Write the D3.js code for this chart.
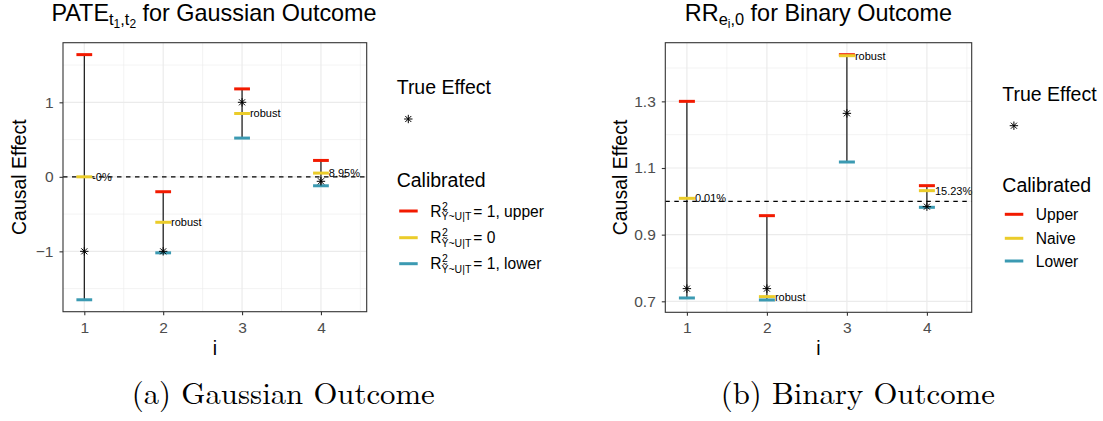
<!DOCTYPE html>
<html>
<head>
<meta charset="utf-8">
<script src="https://cdn.jsdelivr.net/npm/d3@7"></script>
<style>
  body { margin: 0; background: #fff; }
  svg { font-family: 'Liberation Sans', Arial, Helvetica, sans-serif; }
</style>
</head>
<body>
<svg width="1103" height="421"></svg>
<script>
//## DATA ##
const cases = [1, 2, 3, 4]
// -- (a) Gaussian outcome, PATE --
const gaussUpper = [1.64, -0.20, 1.18, 0.22]
const gaussNaive = [0, -0.61, 0.85, 0.05]
const gaussLower = [-1.65, -1.02, 0.52, -0.12]
const gaussTrue = [-1, -1, 1, -0.06]
const gaussLabels = ['-0%', 'robust', 'robust', '8.95%']
const gaussYTicks = [-1, 0, 1]
const gaussYMinor = [-1.5, -0.5, 0.5, 1.5]
// -- (b) Binary outcome, RR --
const binUpper = [1.30, 0.957, 1.44, 1.047]
const binNaive = [1.009, 0.714, 1.437, 1.032]
const binLower = [0.71, 0.704, 1.118, 0.982]
const binTrue = [0.738, 0.738, 1.264, 0.984]
const binLabels = ['0.01%', 'robust', 'robust', '15.23%']
const binYTicks = [0.7, 0.9, 1.1, 1.3]
const binYMinor = [0.8, 1.0, 1.2, 1.4]
const xMinor = [1.5, 2.5, 3.5, 4.5]

const colors = { upper: '#F21A00', naive: '#EBCC2A', lower: '#3B9AB2' }
const gridColor = '#EBEBEB'
const textGrey = '#4D4D4D'

const svg = d3.select('svg')

// asterisk like R's pch 8
const asterisk = function(g, cx, cy, r) {
  const d = r * 0.72
  const path = `M${cx - r},${cy}H${cx + r}M${cx},${cy - r}V${cy + r}` +
    `M${cx - d},${cy - d}L${cx + d},${cy + d}M${cx - d},${cy + d}L${cx + d},${cy - d}`
  g.append('path').attr('d', path).attr('stroke', '#000').attr('stroke-width', 1).attr('fill', 'none')
}

// title with nested subscripts: parts = [[text, level], ...]
const drawTitle = function(cx, baseline, parts) {
  const sizes = [23.4, 16.4, 12]
  const shift = [0, 4.6, 7.6]
  const t = svg.append('text')
    .attr('x', cx).attr('y', baseline)
    .attr('text-anchor', 'middle')
    .attr('fill', '#000')
  let prev = 0
  parts.forEach(([txt, lvl]) => {
    t.append('tspan')
      .attr('dy', shift[lvl] - prev)
      .style('font-size', sizes[lvl] + 'px')
      .text(txt)
    prev = shift[lvl]
  })
}

const drawPanel = function(cfg) {
  const box = cfg.box
  const x = d3.scaleLinear().domain(cfg.xDomain).range([box.left, box.right])
  const y = d3.scaleLinear().domain(cfg.yDomain).range([box.bottom, box.top])
  const g = svg.append('g')

  g.append('rect')
    .attr('x', box.left).attr('y', box.top)
    .attr('width', box.right - box.left).attr('height', box.bottom - box.top)
    .attr('fill', '#fff')

  // grid
  g.selectAll('.minorX').data(xMinor.filter(v => v > cfg.xDomain[0] && v < cfg.xDomain[1]))
    .enter().append('line')
    .attr('x1', d => x(d)).attr('x2', d => x(d))
    .attr('y1', box.top).attr('y2', box.bottom)
    .attr('stroke', gridColor).attr('stroke-width', 0.6)
  g.selectAll('.minorY').data(cfg.yMinor)
    .enter().append('line')
    .attr('x1', box.left).attr('x2', box.right)
    .attr('y1', d => y(d)).attr('y2', d => y(d))
    .attr('stroke', gridColor).attr('stroke-width', 0.6)
  g.selectAll('.majorX').data(cases)
    .enter().append('line')
    .attr('x1', d => x(d)).attr('x2', d => x(d))
    .attr('y1', box.top).attr('y2', box.bottom)
    .attr('stroke', gridColor).attr('stroke-width', 1.2)
  g.selectAll('.majorY').data(cfg.yTicks)
    .enter().append('line')
    .attr('x1', box.left).attr('x2', box.right)
    .attr('y1', d => y(d)).attr('y2', d => y(d))
    .attr('stroke', gridColor).attr('stroke-width', 1.2)

  // reference line
  g.append('line')
    .attr('x1', box.left).attr('x2', box.right)
    .attr('y1', y(cfg.ref)).attr('y2', y(cfg.ref))
    .attr('stroke', '#000').attr('stroke-width', 1.1)
    .attr('stroke-dasharray', '4.5,4.5')

  // intervals
  g.selectAll('.range').data(cases)
    .enter().append('line')
    .attr('x1', d => x(d)).attr('x2', d => x(d))
    .attr('y1', (d, i) => y(cfg.lower[i])).attr('y2', (d, i) => y(cfg.upper[i]))
    .attr('stroke', '#000').attr('stroke-width', 1.1)

  const caps = [['upper', cfg.upper], ['naive', cfg.naive], ['lower', cfg.lower]]
  caps.forEach(([key, vals]) => {
    g.selectAll('.cap-' + key).data(cases)
      .enter().append('line')
      .attr('x1', d => x(d - 0.1)).attr('x2', d => x(d + 0.1))
      .attr('y1', (d, i) => y(vals[i])).attr('y2', (d, i) => y(vals[i]))
      .attr('stroke', colors[key]).attr('stroke-width', 3)
  })

  cases.forEach((c, i) => asterisk(g, x(c), y(cfg.truth[i]), 4.2))

  g.selectAll('.lbl').data(cases)
    .enter().append('text')
    .attr('x', d => x(d + 0.1))
    .attr('y', (d, i) => y(cfg.naive[i]))
    .attr('dominant-baseline', 'central')
    .style('font-size', '11px')
    .attr('fill', '#000')
    .text((d, i) => cfg.labels[i])

  // border
  g.append('rect')
    .attr('x', box.left).attr('y', box.top)
    .attr('width', box.right - box.left).attr('height', box.bottom - box.top)
    .attr('fill', 'none').attr('stroke', '#333').attr('stroke-width', 1.1)

  // axes
  const xAxisGroup = g.append('g')
    .attr('transform', 'translate(0,' + box.bottom + ')')
    .call(d3.axisBottom(x).tickValues(cases).tickSize(3.5).tickPadding(6.5).tickFormat(d3.format('d')))
  const yAxisGroup = g.append('g')
    .attr('transform', 'translate(' + box.left + ',0)')
    .call(d3.axisLeft(y).tickValues(cfg.yTicks).tickSize(3.5).tickPadding(6).tickFormat(cfg.yFormat))
  ;[xAxisGroup, yAxisGroup].forEach(ax => {
    ax.select('.domain').remove()
    ax.attr('font-family', null).attr('font-size', null)
    ax.selectAll('.tick line').attr('stroke', '#333').attr('stroke-width', 1.1)
    ax.selectAll('.tick text').attr('fill', textGrey).style('font-size', '15.5px')
  })

  svg.append('text')
    .attr('x', (box.left + box.right) / 2).attr('y', 355)
    .attr('text-anchor', 'middle')
    .style('font-size', '19.5px')
    .text('i')

  svg.append('text')
    .attr('transform', 'translate(' + cfg.yTitleX + ',' + (box.top + box.bottom) / 2 + ') rotate(-90)')
    .attr('text-anchor', 'middle')
    .style('font-size', '19.5px')
    .text('Causal Effect')
}

// legend label with R^2 over subscript (plotmath style)
const drawMathLabel = function(x0, cy, tail) {
  const base = svg.append('text').attr('x', x0).attr('y', cy + 5.5).style('font-size', '15.6px').text('R')
  const w = base.node().getComputedTextLength()
  svg.append('text').attr('x', x0 + w + 0.5).attr('y', cy - 1.5).style('font-size', '10.5px').text('2')
  const sub = svg.append('text').attr('x', x0 + w).attr('y', cy + 9).style('font-size', '10.5px').text('\u1EF8~U|T')
  const sw = sub.node().getComputedTextLength()
  svg.append('text').attr('x', x0 + w + sw + 2).attr('y', cy + 5.5).style('font-size', '15.6px').text(tail)
}

const drawLegend = function(cfg) {
  svg.append('text').attr('x', cfg.x).attr('y', cfg.trueY).style('font-size', '19.5px').text('True Effect')
  asterisk(svg, cfg.x + 11.6, cfg.trueY + 25, 4.2)
  svg.append('text').attr('x', cfg.x).attr('y', cfg.calY).style('font-size', '19.5px').text('Calibrated')
  const keys = ['upper', 'naive', 'lower']
  keys.forEach((k, i) => {
    const ky = cfg.keyY[i]
    svg.append('line')
      .attr('x1', cfg.x + 2.5).attr('x2', cfg.x + 21)
      .attr('y1', ky).attr('y2', ky)
      .attr('stroke', colors[k]).attr('stroke-width', 3)
    if (cfg.math) {
      drawMathLabel(cfg.x + 33.5, ky, cfg.labels[i])
    } else {
      svg.append('text').attr('x', cfg.x + 33.5).attr('y', ky)
        .attr('dominant-baseline', 'central')
        .style('font-size', '15.6px').text(cfg.labels[i])
    }
  })
}

const drawCaption = function(x0, x1, baseline, txt) {
  const t = svg.append('text')
    .attr('x', x0).attr('y', baseline)
    .style('font-family', "'Latin Modern Roman', 'CMU Serif', 'Liberation Serif', serif")
    .style('font-size', '32px')
    .text(txt)
  const len = t.node().getComputedTextLength()
  t.style('font-size', (32 * (x1 - x0) / len) + 'px')
}

//## DRAW ##
drawPanel({
  box: { left: 63, right: 366.7, top: 42.7, bottom: 311.7 },
  xDomain: [0.73, 4.58], yDomain: [-1.81, 1.80],
  yTicks: gaussYTicks, yMinor: gaussYMinor, yFormat: d3.format('d'),
  ref: 0, upper: gaussUpper, naive: gaussNaive, lower: gaussLower,
  truth: gaussTrue, labels: gaussLabels, yTitleX: 26
})
drawPanel({
  box: { left: 665.3, right: 971.7, top: 42.7, bottom: 312.3 },
  xDomain: [0.73, 4.56], yDomain: [0.667, 1.476],
  yTicks: binYTicks, yMinor: binYMinor, yFormat: d3.format('.1f'),
  ref: 1, upper: binUpper, naive: binNaive, lower: binLower,
  truth: binTrue, labels: binLabels, yTitleX: 626.5
})

drawTitle(214, 20.7, [['PATE', 0], ['t', 1], ['1', 2], [',', 1], ['t', 1], ['2', 2], [' for Gaussian Outcome', 0]])
drawTitle(818.5, 20.7, [['RR', 0], ['e', 1], ['i', 2], [',0', 1], [' for Binary Outcome', 0]])

drawLegend({ x: 396.7, trueY: 94, calY: 186.7, keyY: [211, 237.7, 263.7], math: true,
  labels: [' = 1, upper', ' = 0', ' = 1, lower'] })
drawLegend({ x: 1002.3, trueY: 100.7, calY: 191.7, keyY: [214.3, 238.3, 261], math: false,
  labels: ['Upper', 'Naive', 'Lower'] })

drawCaption(131.7, 435, 404, '(a) Gaussian Outcome')
drawCaption(720.7, 995, 404, '(b) Binary Outcome')
</script>
</body>
</html>
